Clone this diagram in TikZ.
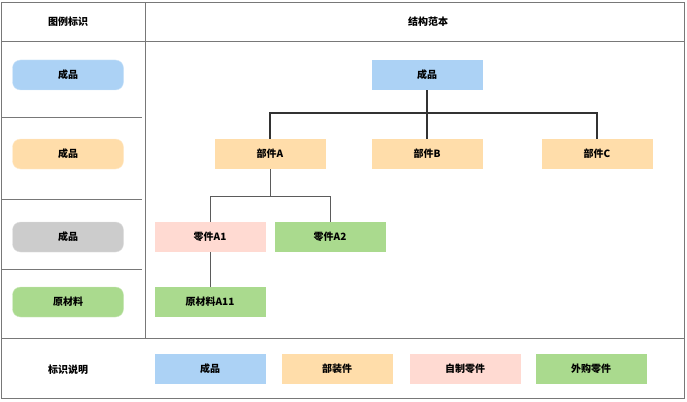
\documentclass[tikz,border=0pt]{standalone}
\usepackage{fontspec}
\setmainfont{Noto Sans CJK SC}
\definecolor{cpBlue}{RGB}{172,210,245}
\definecolor{cpOrange}{RGB}{255,221,170}
\definecolor{cpPink}{RGB}{255,218,210}
\definecolor{cpGreen}{RGB}{170,218,142}
\definecolor{cpGray}{RGB}{204,204,204}
\definecolor{cpFrame}{RGB}{120,120,120}
\definecolor{cpLine}{RGB}{50,50,50}
\tikzset{
  frame/.style={draw=cpFrame, line width=1pt},
  legendbox/.style={rounded corners=8pt, minimum width=111pt, minimum height=30pt, inner sep=0pt, font=\bfseries\fontsize{10}{12}\selectfont},
  partbox/.style={minimum width=111pt, minimum height=30pt, inner sep=0pt, font=\bfseries\fontsize{10}{12}\selectfont},
  treeline/.style={draw=cpLine, line width=1.5pt},
  subline/.style={draw=cpLine!80, line width=0.8pt},
  label/.style={font=\bfseries\fontsize{10}{12}\selectfont}
}
\begin{document}
\begin{tikzpicture}[x=1pt, y=-1pt]
    \useasboundingbox (0,0) rectangle (687,401);
    % table frame
    \draw[frame] (1,3) rectangle (684,398);
    \draw[frame] (145,3) -- (145,338);
    \draw[frame] (1,42) -- (684,42);
    \draw[frame] (1,338) -- (684,338);
    \draw[frame] (1,117) -- (142,117);
    \draw[frame] (1,199) -- (142,199);
    \draw[frame] (1,269) -- (142,269);
    \node[label] (hdLegend) at (68,22) {图例标识};
    \node[label] (hdSample) at (428,22) {结构范本};
    % legend column
    \node[legendbox, fill=cpBlue, draw=cpBlue!60] (lgFinished) at (68,75) {成品};
    \node[legendbox, fill=cpOrange, draw=cpOrange!60] (lgAssembly) at (68,154) {成品};
    \node[legendbox, fill=cpGray, draw=cpGray!60] (lgPart) at (68,237) {成品};
    \node[legendbox, fill=cpGreen, draw=cpGreen!60] (lgRaw) at (68,302) {原材料};
    % structure sample
    \node[partbox, fill=cpBlue] (root) at (427,75) {成品};
    \node[partbox, fill=cpOrange] (partA) at (270,154) {部件A};
    \node[partbox, fill=cpOrange] (partB) at (427,154) {部件B};
    \node[partbox, fill=cpOrange] (partC) at (597,154) {部件C};
    \node[partbox, fill=cpPink] (partA1) at (210,237) {零件A1};
    \node[partbox, fill=cpGreen] (partA2) at (330,237) {零件A2};
    \node[partbox, fill=cpGreen] (rawA11) at (210,302) {原材料A11};
    \draw[treeline] (root) -- (partB);
    \draw[treeline] (partA.north) -- ++(0,-26) -| (partC.north);
    \draw[subline] (partA.south) -- ++(0,27) coordinate (jA) -| (partA1.north) (jA) -| (partA2.north);
    \draw[subline] (partA1) -- (rawA11);
    % key row
    \node[label] (keyTitle) at (68,370) {标识说明};
    \node[partbox, fill=cpBlue] (keyFinished) at (210,369) {成品};
    \node[partbox, fill=cpOrange] (keyAssembly) at (337,369) {部装件};
    \node[partbox, fill=cpPink] (keyMade) at (465,369) {自制零件};
    \node[partbox, fill=cpGreen] (keyBought) at (591,369) {外购零件};
\end{tikzpicture}
\end{document}
